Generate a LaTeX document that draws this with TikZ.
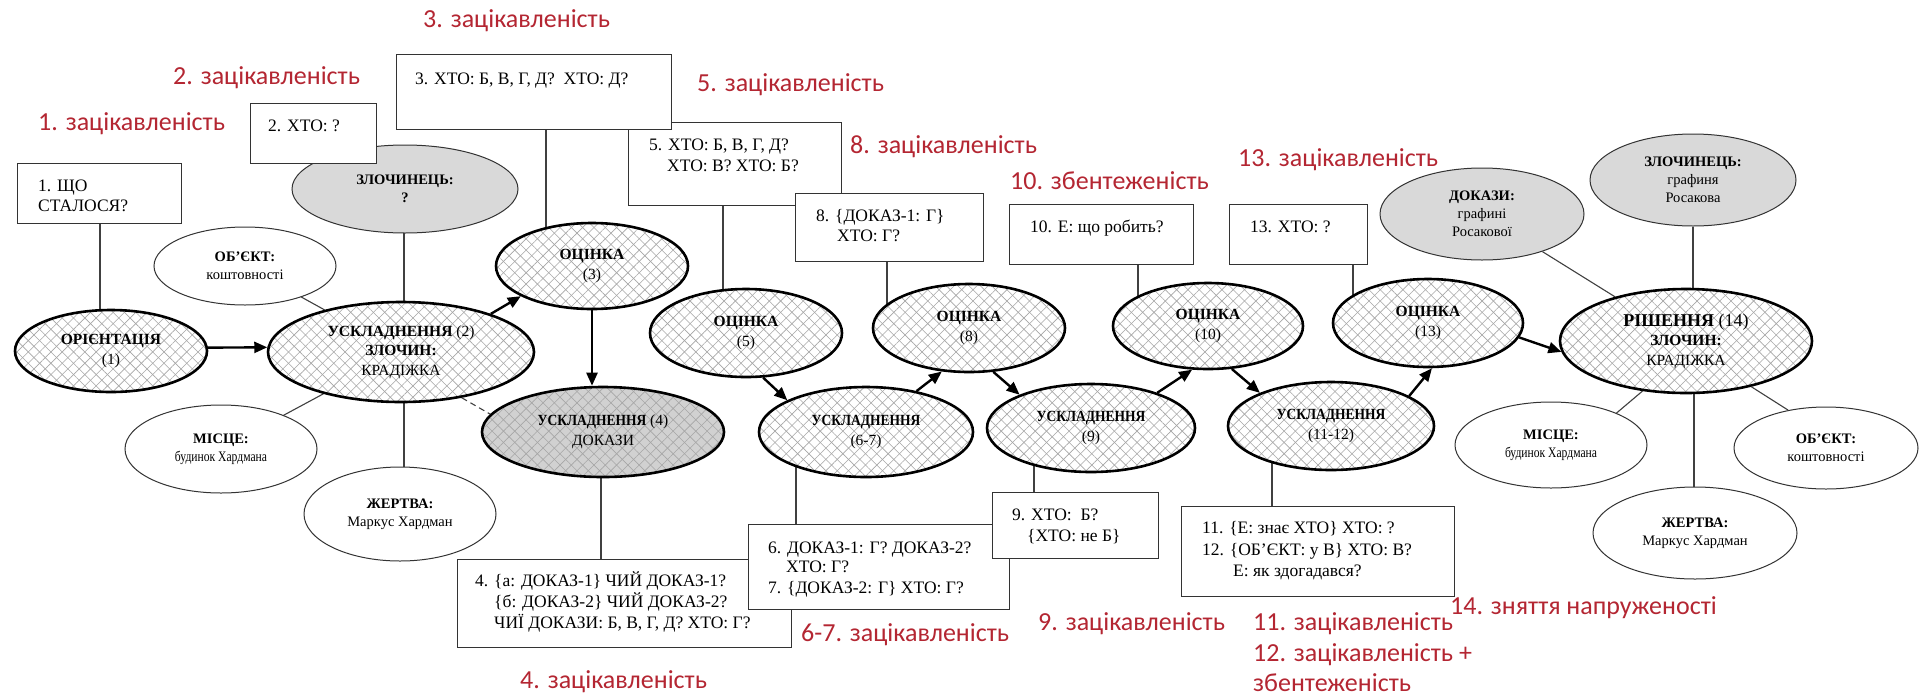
\documentclass[tikz,border=0pt]{standalone}
\usepackage{fontspec}
\setmainfont{Liberation Serif}
\newfontfamily\redfont{Carlito}
\newfontfamily\condfont[FakeStretch=0.87]{Liberation Serif}
\newfontfamily\narrowfont[FakeStretch=0.8]{Liberation Serif}
\usetikzlibrary{shapes.geometric,arrows.meta,patterns.meta}
\pgfdeclarelayer{background}
\pgfsetlayers{background,main}
\definecolor{labred}{RGB}{180,38,50}
\newcommand\bodyfs{\fontsize{17.5}{21}\selectfont}
\newcommand\elfs{\fontsize{15.5}{19.5}\selectfont}
\newcommand\sidefs{\fontsize{14.5}{18}\selectfont}
\newcommand\redfs{\redfont\fontsize{26}{31}\selectfont}
\tikzset{
  hatchel/.style={ellipse, inner sep=0pt, align=center, font=\elfs,
    preaction={fill=#1},
    preaction={pattern={Lines[angle=45,distance=8pt,line width=0.6pt]}, pattern color=black!35},
    preaction={pattern={Lines[angle=-45,distance=8pt,line width=0.6pt]}, pattern color=black!35},
    draw=black, line width=2.6pt},
  hatchel/.default=white,
  sideel/.style={ellipse, draw=black!80, line width=1pt, fill=#1, inner sep=0pt, align=center, font=\sidefs},
  sideel/.default=white,
  qbox/.style={draw=black!80, line width=1.3pt, fill=white, inner sep=0pt, anchor=north west},
  qtext/.style={anchor=base west, inner sep=0pt, font=\bodyfs},
  redlab/.style={anchor=base west, inner sep=0pt, font=\redfs, text=labred},
  arr/.style={line width=2.4pt, -{Triangle[length=13pt,width=11pt]}},
  link/.style={draw=black!75, line width=1.1pt},
}
\begin{document}
\begin{tikzpicture}[x=1pt,y=-1pt]
\useasboundingbox (0,0) rectangle (1919,697);

% ---------- side ellipses ----------
\node[sideel] (OBL) at (245,266) [minimum width=182pt, minimum height=78pt] {\textbf{ОБ’ЄКТ:}\\коштовності};
\node[sideel] (ML) at (221,449) [minimum width=192pt, minimum height=88pt] {\textbf{МІСЦЕ:}\\{\narrowfont будинок Хардмана}};
\node[sideel] (JL) at (400,514) [minimum width=192pt, minimum height=94pt] {\textbf{ЖЕРТВА:}\\Маркус Хардман};
\node[sideel=black!15] (ZL) at (405,189) [minimum width=226pt, minimum height=88pt] {\textbf{ЗЛОЧИНЕЦЬ:}\\\textbf{?}};
\node[sideel=black!15] (DR) at (1482,214) [minimum width=204pt, minimum height=92pt] {\textbf{ДОКАЗИ:}\\графині\\Росакової};
\node[sideel=black!15] (ZR) at (1693,180) [minimum width=206pt, minimum height=92pt] {\textbf{ЗЛОЧИНЕЦЬ:}\\графиня\\Росакова};
\node[sideel] (MR) at (1551,445) [minimum width=192pt, minimum height=86pt] {\textbf{МІСЦЕ:}\\{\narrowfont будинок Хардмана}};
\node[sideel] (OR) at (1826,448) [minimum width=184pt, minimum height=82pt] {\textbf{ОБ’ЄКТ:}\\коштовності};
\node[sideel] (JR) at (1695,533) [minimum width=204pt, minimum height=92pt] {\textbf{ЖЕРТВА:}\\Маркус Хардман};

% ---------- boxes ----------
\node[qbox, minimum width=164pt, minimum height=60pt] (B1) at (17,163) {};
\node[qtext] (t1a) at (38,191) {1. ЩО};
\node[qtext] (t1b) at (38,211) {СТАЛОСЯ?};
\node[qbox, minimum width=126pt, minimum height=60pt] (B2) at (250,103) {};
\node[qtext] (t2) at (268,131) {2. ХТО: ?};
\node[qbox, minimum width=213pt, minimum height=83pt] (B5) at (628,122) {};
\node[qtext] (t5a) at (649,150) {5. ХТО: Б, В, Г, Д?};
\node[qtext] (t5b) at (667,171) {ХТО: В? ХТО: Б?};
\node[qbox, minimum width=275pt, minimum height=75pt] (B3) at (396,54) {};
\node[qtext] (t3) at (415,84) {3. ХТО: Б, В, Г, Д?\ \ ХТО: Д?};
\node[qbox, minimum width=188pt, minimum height=68pt] (B8) at (795,193) {};
\node[qtext] (t8a) at (816,221) {8. \{ДОКАЗ-1: Г\}};
\node[qtext] (t8b) at (837,241) {ХТО: Г?};
\node[qbox, minimum width=184pt, minimum height=60pt] (B10) at (1009,204) {};
\node[qtext] (t10) at (1030,232) {10. Е: що робить?};
\node[qbox, minimum width=138pt, minimum height=60pt] (B13) at (1229,204) {};
\node[qtext] (t13) at (1250,232) {13. ХТО: ?};
\node[qbox, minimum width=334pt, minimum height=88pt] (B4) at (457,559) {};
\node[qtext] (t4a) at (475,586) {4. \{а: ДОКАЗ-1\} ЧИЙ ДОКАЗ-1?};
\node[qtext] (t4b) at (494,607) {\{б: ДОКАЗ-2\} ЧИЙ ДОКАЗ-2?};
\node[qtext] (t4c) at (494,628) {ЧИЇ ДОКАЗИ: Б, В, Г, Д? ХТО: Г?};
\node[qbox, minimum width=261pt, minimum height=85pt] (B6) at (748,524) {};
\node[qtext] (t6a) at (768,553) {6. ДОКАЗ-1: Г? ДОКАЗ-2?};
\node[qtext] (t6b) at (786,572) {ХТО: Г?};
\node[qtext] (t6c) at (768,593) {7. \{ДОКАЗ-2: Г\} ХТО: Г?};
\node[qbox, minimum width=166pt, minimum height=66pt] (B9) at (992,492) {};
\node[qtext] (t9a) at (1012,520) {9. ХТО:\ \ Б?};
\node[qtext] (t9b) at (1027,541) {\{ХТО: не Б\}};
\node[qbox, minimum width=273pt, minimum height=90pt] (B11) at (1181,506) {};
\node[qtext] (t11a) at (1202,533) {11. \{Е: знає ХТО\} ХТО: ?};
\node[qtext] (t11b) at (1202,555) {12. \{ОБ’ЄКТ: у В\} ХТО: В?};
\node[qtext] (t11c) at (1233,576) {Е: як здогадався?};

% ---------- main ellipses ----------
\node[hatchel] (E1) at (111,351) [minimum width=192pt, minimum height=82pt] {\textbf{ОРІЄНТАЦІЯ}\\(1)};
\node[hatchel] (E2) at (401,352) [minimum width=266pt, minimum height=100pt] {\textbf{УСКЛАДНЕННЯ} (2)\\\textbf{ЗЛОЧИН:}\\КРАДІЖКА};
\node[hatchel] (O3) at (592,266) [minimum width=192pt, minimum height=86pt] {\textbf{ОЦІНКА}\\(3)};
\node[hatchel=black!18] (E4) at (603,432) [minimum width=242pt, minimum height=90pt] {{\condfont\bfseries УСКЛАДНЕННЯ} (4)\\ДОКАЗИ};
\node[hatchel] (O5) at (746,333) [minimum width=192pt, minimum height=88pt] {\textbf{ОЦІНКА}\\(5)};
\node[hatchel] (E67) at (866,432) [minimum width=214pt, minimum height=90pt] {{\condfont\bfseries УСКЛАДНЕННЯ}\\(6-7)};
\node[hatchel] (O8) at (969,328) [minimum width=192pt, minimum height=88pt] {\textbf{ОЦІНКА}\\(8)};
\node[hatchel] (E9) at (1091,428) [minimum width=208pt, minimum height=88pt] {{\condfont\bfseries УСКЛАДНЕННЯ}\\(9)};
\node[hatchel] (O10) at (1208,326) [minimum width=190pt, minimum height=86pt] {\textbf{ОЦІНКА}\\(10)};
\node[hatchel] (E1112) at (1331,426) [minimum width=206pt, minimum height=88pt] {{\condfont\bfseries УСКЛАДНЕННЯ}\\(11-12)};
\node[hatchel] (O13) at (1428,323) [minimum width=190pt, minimum height=88pt] {\textbf{ОЦІНКА}\\(13)};
\node[hatchel] (R14) at (1686,341) [minimum width=252pt, minimum height=104pt] {{\fontsize{18}{20}\selectfont\textbf{РІШЕННЯ} (14)}\\\textbf{ЗЛОЧИН:}\\КРАДІЖКА};

% ---------- red labels ----------
\node[redlab] (L1) at (38,130.5) {1. зацікавленість};
\node[redlab] (L2) at (173,84.5) {2. зацікавленість};
\node[redlab] (L3) at (423,27.5) {3. зацікавленість};
\node[redlab] (L5) at (697,91.5) {5. зацікавленість};
\node[redlab] (L8) at (850,153.5) {8. зацікавленість};
\node[redlab] (L10) at (1010,189.5) {10. збентеженість};
\node[redlab] (L13) at (1238,166.5) {13. зацікавленість};
\node[redlab] (L4) at (520,688.5) {4. зацікавленість};
\node[redlab] (L67) at (801,641.5) {6-7. зацікавленість};
\node[redlab] (L9) at (1038,630.5) {9. зацікавленість};
\node[redlab] (L11) at (1253,630.5) {11. зацікавленість};
\node[redlab] (L12) at (1253,661.5) {12. зацікавленість +};
\node[redlab] (L12b) at (1253,691.5) {збентеженість};
\node[redlab] (L14) at (1450,614.5) {14. зняття напруженості};

% ---------- connectors behind ----------
\begin{pgfonlayer}{background}
\fill[white] (0,0) rectangle (1919,697);
\draw[link] (100,0 |- B1.south) -- (100,0 |- E1.center);
\draw[link] (404,0 |- ZL.center) -- (404,0 |- E2.center);
\draw[link] (OBL) -- (E2);
\draw[link] (ML) -- (E2);
\draw[link] (404,0 |- E2.center) -- (404,0 |- JL.center);
\draw[link] (546,0 |- B3.south) -- (546,0 |- O3.center);
\draw[link] (601,0 |- E4.center) -- (601,0 |- B4.north);
\draw[link] (723,0 |- B5.south) -- (723,0 |- O5.center);
\draw[link] (796,0 |- E67.center) -- (796,0 |- B6.north);
\draw[link] (887,0 |- B8.south) -- (887,0 |- O8.center);
\draw[link] (1034,0 |- E9.center) -- (1034,0 |- B9.north);
\draw[link] (1138,0 |- B10.south) -- (1138,0 |- O10.center);
\draw[link] (1272,0 |- E1112.center) -- (1272,0 |- B11.north);
\draw[link] (1353,0 |- B13.south) -- (1353,0 |- O13.center);
\draw[link] (DR) -- (R14);
\draw[link] (ZR) -- (ZR |- R14.center);
\draw[link] (1694,0 |- R14.center) -- (1694,0 |- JR.center);
\end{pgfonlayer}

% ---------- connectors in front ----------
\draw[link] (R14.229) -- (MR.26);
\draw[link] (R14.325.5) -- (OR.135);
\draw[link, dash pattern=on 6pt off 4pt] (E2.323) -- (E4.171);

\draw[arr] (E1.2) -- (E2.178);
\draw[arr] (E2.23) -- (O3.203);
\draw[arr] (O3.south) -- (O3.south |- E4.north);
\draw[arr] (O5.291) -- (E67.158);
\draw[arr] (E67.39) -- (O8.238);
\draw[arr] (O8.299) -- (E9.155);
\draw[arr] (E9.28) -- (O10.250);
\draw[arr] (O10.299) -- (E1112.155);
\draw[arr] (E1112.21) -- (O13.275);
\draw[arr] (O13.351.5) -- (R14.185);
\end{tikzpicture}
\end{document}
